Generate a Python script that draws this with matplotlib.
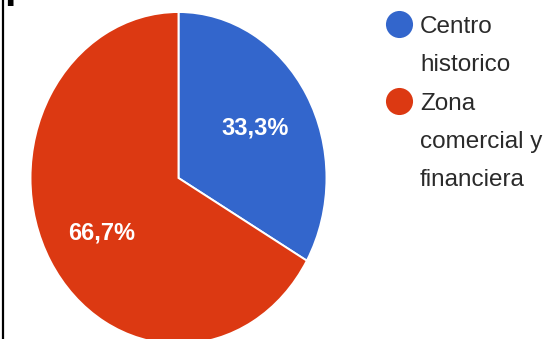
import matplotlib
matplotlib.use("Agg")
import matplotlib.pyplot as plt
from matplotlib.lines import Line2D

# Data
categories = ["Centro historico", "Zona comercial y financiera"]
shares = [33.3, 66.7]
colors = ["#3366CC", "#DC3912"]
legend_lines = [["Centro", "historico"], ["Zona", "comercial y", "financiera"]]

W, H = 551, 339
fig = plt.figure(figsize=(W / 100, H / 100), dpi=100)
fig.patch.set_facecolor("white")

# Pie geometry in pixels (drawn slightly taller than wide)
cx, cy, rx, ry = 178.5, 178.0, 148.0, 166.0
ax = fig.add_axes([(cx - rx) / W, (H - cy - ry) / H, 2 * rx / W, 2 * ry / H])
wedges, texts, autotexts = ax.pie(
    shares,
    colors=colors,
    startangle=90,
    counterclock=False,
    autopct=lambda p: f"{p:.1f}%".replace(".", ","),
    pctdistance=0.6,
    wedgeprops=dict(edgecolor="white", linewidth=1.4),
    textprops=dict(color="white", fontsize=17, fontweight="bold",
                   family="Liberation Sans"),
)
# Slightly lower the label of the larger slice
x0, y0 = autotexts[1].get_position()
autotexts[1].set_position((x0, y0 - 0.03))
ax.set_aspect("auto")
ax.set_xlim(-1, 1)
ax.set_ylim(-1, 1)
ax.axis("off")

# Overlay axes in pixel coordinates for legend and frame
ov = fig.add_axes([0, 0, 1, 1])
ov.set_xlim(0, W)
ov.set_ylim(H, 0)
ov.axis("off")

# Left frame line
ov.add_line(Line2D([2.5, 2.5], [0, H], color="black", linewidth=1.6))
# Descender of a cut-off heading above the chart
ov.text(17, -3, "p", color="black", fontsize=30, fontweight="bold",
        family="Liberation Sans", ha="center", va="baseline", clip_on=True)

# Legend
entry_tops = [33, 110]
step = 38
for color, lines, base in zip(colors, legend_lines, entry_tops):
    ov.plot([398.5], [base - 9], marker="o", markersize=19.5, color=color,
            markeredgewidth=0)
    for i, line in enumerate(lines):
        ov.text(420, base + i * step, line, color="#2a2a2a", fontsize=17.5,
                family="Liberation Sans", ha="left", va="baseline")

fig.savefig("out.png", dpi=100)
